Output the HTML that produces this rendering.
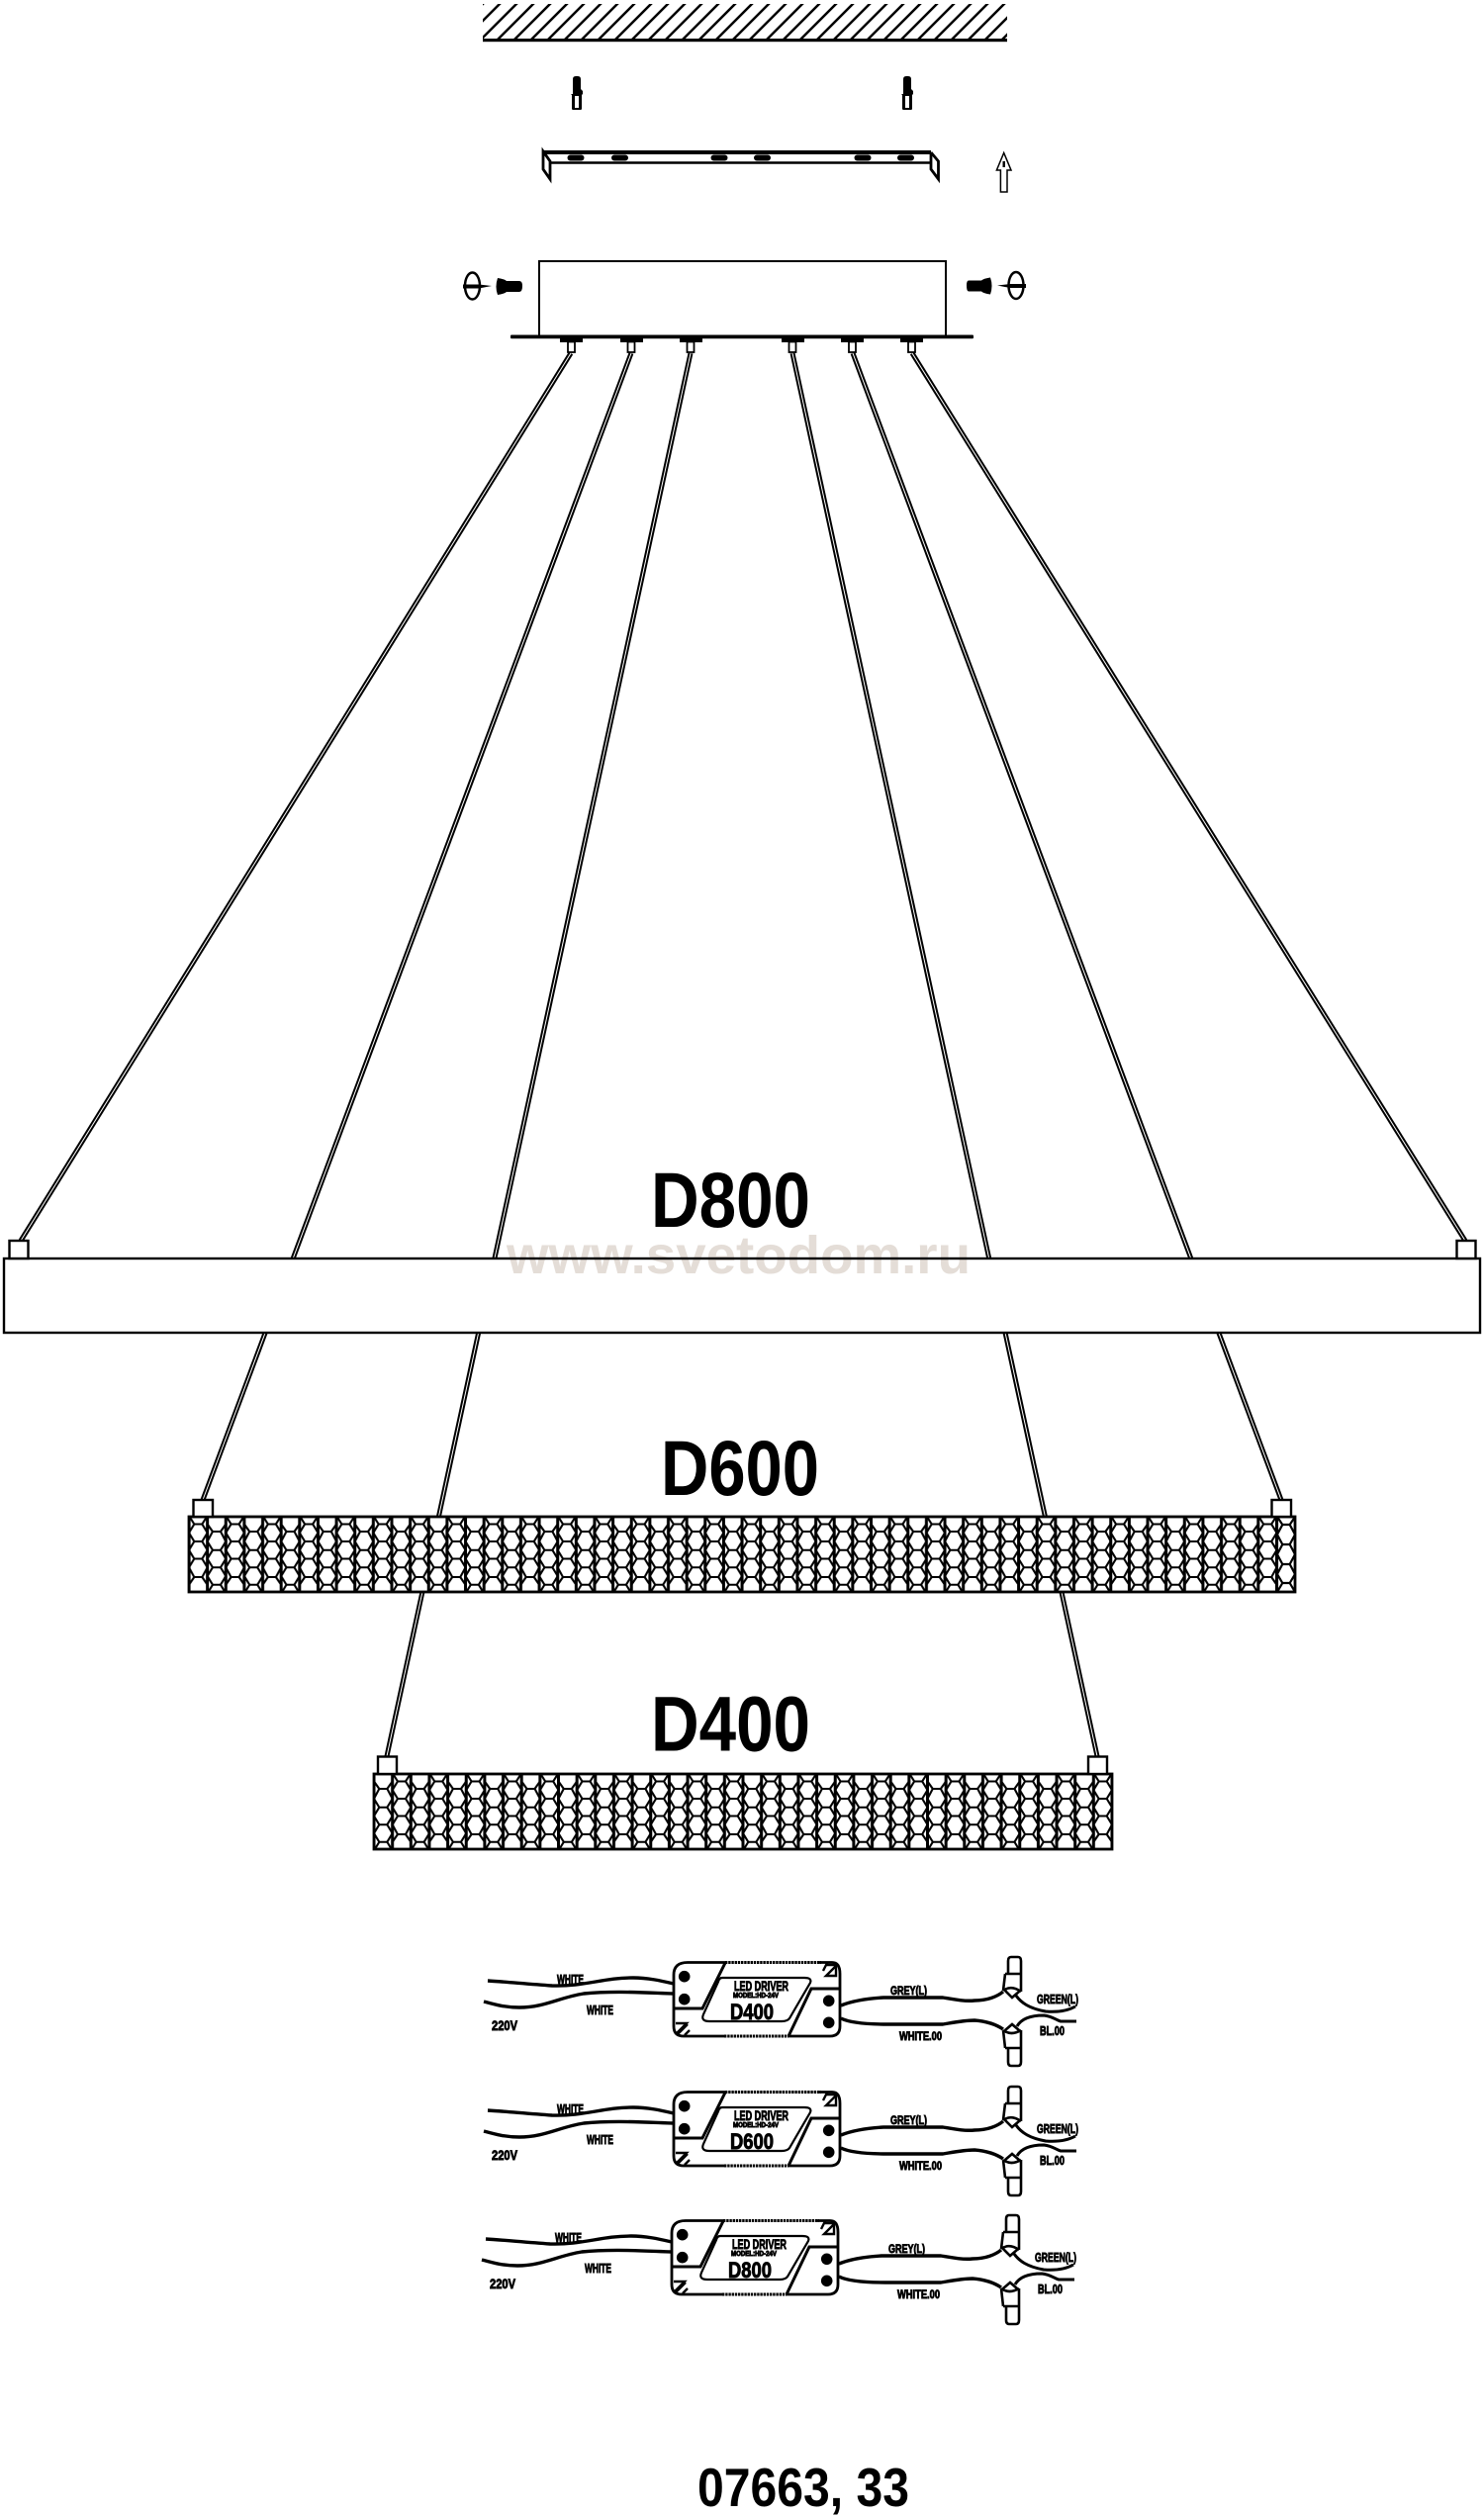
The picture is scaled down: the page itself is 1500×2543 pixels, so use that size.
<!DOCTYPE html>
<html>
<head>
<meta charset="utf-8">
<style>
html,body{margin:0;padding:0;background:#fff}
svg{display:block}
text{font-family:"Liberation Sans",sans-serif;font-weight:700;fill:#000}
.s{stroke:#000;stroke-width:.9}
</style>
</head>
<body>
<svg xmlns="http://www.w3.org/2000/svg" width="1500" height="2543" viewBox="0 0 1500 2543">
<defs>
<pattern id="hatch" patternUnits="userSpaceOnUse" x="488" y="4" width="17" height="17">
<path d="M-2 19L19 -2M-2 2L2 -2M15 19L19 15" stroke="#000" stroke-width="2.500" fill="none"/>
</pattern>
<pattern id="honey" patternUnits="userSpaceOnUse" x="378" y="1793" width="37.3" height="76">
<g fill="none" stroke="#000" stroke-width="2.100">
<path d="M0 0V7.500L5.300 15L0 25L5.300 33.750L0 42.500L5.300 51.250L0 60L5.300 68.750L0 77.500"/>
<path d="M18.650 0V7.500L13.350 15L18.650 25L13.350 33.750L18.650 42.500L13.350 51.250L18.650 60L13.350 68.750L18.650 77.500"/>
<path d="M5.300 15H13.350M5.300 33.750H13.350M5.300 51.250H13.350M5.300 68.750H13.350"/>
<path d="M18.650 -1L23.950 7.500L18.650 16.250L23.950 25L18.650 33.750L23.950 42.500L18.650 51.250L23.950 61L18.650 68.750V76"/>
<path d="M37.300 -1L32 7.500L37.300 16.250L32 25L37.300 33.750L32 42.500L37.300 51.250L32 61L37.300 68.750V76"/>
<path d="M23.950 7.500H32M23.950 25H32M23.950 42.500H32M23.950 61H32"/>
<path d="M0 0V76M18.650 0V76M37.300 0V76" stroke-width="3"/>
</g>
</pattern>
<pattern id="honey2" patternUnits="userSpaceOnUse" x="172.37" y="1533" width="37.27" height="76">
<g fill="none" stroke="#000" stroke-width="2.100">
<path d="M0 0V7.500L5.300 15L0 25L5.300 33.750L0 42.500L5.300 51.250L0 60L5.300 68.750L0 77.500"/>
<path d="M18.630 0V7.500L13.330 15L18.630 25L13.330 33.750L18.630 42.500L13.330 51.250L18.630 60L13.330 68.750L18.630 77.500"/>
<path d="M5.300 15H13.330M5.300 33.750H13.330M5.300 51.250H13.330M5.300 68.750H13.330"/>
<path d="M18.630 -1L23.930 7.500L18.630 16.250L23.930 25L18.630 33.750L23.930 42.500L18.630 51.250L23.930 61L18.630 68.750V76"/>
<path d="M37.270 -1L31.970 7.500L37.270 16.250L31.970 25L37.270 33.750L31.970 42.500L37.270 51.250L31.970 61L37.270 68.750V76"/>
<path d="M23.930 7.500H31.970M23.930 25H31.970M23.930 42.500H31.970M23.930 61H31.970"/>
<path d="M0 0V76M18.630 0V76M37.270 0V76" stroke-width="3"/>
</g>
</pattern>
<g id="driver" fill="none" stroke="#000">
<path d="M493 2002C510 2003 530 2005 558 2007C590 2008 610 1999 640 1999C655 1999 668 2002 681 2005" stroke-width="3.400"/>
<path d="M489 2023C500 2026 510 2029 525 2029C550 2029 565 2019 590 2015C620 2012 650 2014 681 2015" stroke-width="3.400"/>
<path d="M733 1983.5H695Q681 1983.500 681 1996V2048Q681 2058 691 2058H732M797 2058H839Q849 2058 849 2048V1995Q849 1983.500 841 1983.500H828" stroke-width="2.800"/>
<path d="M733 1983.500H830" stroke-width="3" stroke-dasharray="2.400 .8"/>
<path d="M732 2058H797" stroke-width="3" stroke-dasharray="2.400 .8"/>
<path d="M733 1984L710 2030H681M797 2058L820 2010H849" stroke-width="3"/>
<path d="M730 1999H813Q821 1999 819 2004L798 2040Q796 2043 790 2043H717Q708 2043 711 2036L726 2003Q727 1999 730 1999Z" stroke-width="2.200"/>
<g fill="#000" stroke="none">
<circle cx="691.700" cy="1997.700" r="5.800"/>
<circle cx="691.700" cy="2020.700" r="5.800"/>
<circle cx="837.700" cy="2022.300" r="5.800"/>
<circle cx="837.700" cy="2044.300" r="5.800"/>
</g>
<path d="M683 2045H694L683 2056M684 2057L695 2046M692 2057L697 2052M835 1986H845V1997H835L846 1986M836 1984L832 1992" stroke-width="2.400"/>
<path d="M850 2027C860 2023 875 2020 893 2019H953C965 2021 975 2023 985 2022C998 2022 1008 2018 1014 2013" stroke-width="3.400"/>
<path d="M850 2040C858 2044 875 2046 897 2046H953C965 2044 975 2042 985 2042C998 2043 1008 2047 1014 2051" stroke-width="3.400"/>
<path d="M1027 2017C1032 2024 1040 2030 1057 2033C1070 2034 1080 2032 1087 2028" stroke-width="3"/>
<path d="M1028 2048C1032 2041 1040 2037 1055 2037C1064 2038 1068 2042 1072 2043H1088" stroke-width="3"/>
<path d="M1019 1995V1982Q1019 1978 1022 1978H1029Q1032 1978 1032 1982V1995M1016 1995H1032V2013M1016 1995L1014 2012M1014 2012Q1022 2006 1032 2013M1016 2012L1023 2019L1030 2013" stroke-width="2.600" fill="#fff"/>
<path d="M1019 2070V2084Q1019 2088 1022 2088H1029Q1032 2088 1032 2084V2070M1016 2070H1032V2052M1016 2070L1014 2052M1014 2052Q1022 2058 1032 2052M1016 2052L1023 2046L1030 2052" stroke-width="2.600" fill="#fff"/>
</g>
</defs>

<rect width="1500" height="2543" fill="#fff"/>

<rect x="488" y="4" width="530" height="35" fill="url(#hatch)"/>
<rect x="488" y="39" width="530" height="3.200" fill="#000"/>

<g>
<path d="M579 95V80Q579 77 582 77H584Q587 77 587 80V90L589 92V95L588 96V110Q588 111 586 111H580Q578 111 578 110V96L577 95Z" fill="#000"/>
<rect x="581" y="97" width="4" height="12" fill="#fff"/>
<path d="M913 95V80Q913 77 916 77H918Q921 77 921 80V90L923 92V95L922 96V110Q922 111 920 111H914Q912 111 912 110V96L911 95Z" fill="#000"/>
<rect x="915" y="97" width="4" height="12" fill="#fff"/>
</g>

<g fill="none" stroke="#000">
<path d="M549 154H941" stroke-width="4"/>
<path d="M555 164.500H943" stroke-width="2.400"/>
<path d="M549 153V171L556 181V163L549 153ZM941 154L948.500 163V181L941 171V154" stroke-width="2.800" fill="#fff"/>
</g>
<g fill="#000">
<rect x="573.500" y="156.500" width="17" height="6" rx="3"/>
<rect x="618" y="156.500" width="17" height="6" rx="3"/>
<rect x="718.500" y="156.500" width="17" height="6" rx="3"/>
<rect x="762" y="156.500" width="17" height="6" rx="3"/>
<rect x="863.500" y="156.500" width="17" height="6" rx="3"/>
<rect x="907" y="156.500" width="17" height="6" rx="3"/>
</g>

<path d="M1014.700 154.500L1022 172H1018V194H1011.400V172H1007.400Z" fill="#fff" stroke="#000" stroke-width="1.500"/>
<rect x="1013.500" y="163" width="2.500" height="6" fill="#000"/>

<rect x="545" y="264" width="411" height="76" fill="#fff" stroke="#000" stroke-width="2"/>
<rect x="516" y="338.500" width="468" height="3.800" rx="1" fill="#000"/>

<g>
<ellipse cx="477.500" cy="289" rx="7.500" ry="13.500" fill="none" stroke="#000" stroke-width="2.500"/>
<path d="M468 287.500H484L497 289L484 291.500H468Z" fill="#000"/>
<path d="M503 281Q510 282 512 284H525Q528 284 528 289Q528 295 525 295H512Q510 297 503 298Q500 290 503 281Z" fill="#000"/>
<ellipse cx="1027" cy="288.500" rx="7.500" ry="13.500" fill="none" stroke="#000" stroke-width="2.500"/>
<path d="M1037 287H1021L1008 288.500L1021 291H1037Z" fill="#000"/>
<path d="M1001 280.500Q994 281.500 992 283.500H979Q977 283.500 977 288.500Q977 294.500 979 294.500H992Q994 296.500 1001 297.500Q1004 289 1001 280.500Z" fill="#000"/>
</g>

<g>
<g fill="#000">
<rect x="566" y="342" width="23" height="4"/>
<rect x="627" y="342" width="23" height="4"/>
<rect x="687" y="342" width="23" height="4"/>
<rect x="790" y="342" width="23" height="4"/>
<rect x="850" y="342" width="23" height="4"/>
<rect x="910" y="342" width="23" height="4"/>
</g>
<g fill="#fff" stroke="#000" stroke-width="1.800">
<rect x="574" y="345.500" width="7" height="10.500"/>
<rect x="634.500" y="345.500" width="7" height="10.500"/>
<rect x="694.500" y="345.500" width="7" height="10.500"/>
<rect x="797.500" y="345.500" width="7" height="10.500"/>
<rect x="858" y="345.500" width="7" height="10.500"/>
<rect x="918" y="345.500" width="7" height="10.500"/>
</g>
</g>

<g fill="none" stroke="#000" stroke-width="5">
<path d="M577 357L21 1254"/>
<path d="M638 357L205 1516"/>
<path d="M698 357L391 1775"/>
<path d="M801 357L1109 1775"/>
<path d="M862 357L1295 1516"/>
<path d="M922 357L1481 1254"/>
</g>
<g fill="none" stroke="#fff" stroke-width="1">
<path d="M577 357L21 1254"/>
<path d="M638 357L205 1516"/>
<path d="M698 357L391 1775"/>
<path d="M801 357L1109 1775"/>
<path d="M862 357L1295 1516"/>
<path d="M922 357L1481 1254"/>
</g>

<rect x="4" y="1272" width="1492" height="75" fill="#fff"/>
<text x="512" y="1287" font-size="54" textLength="469" lengthAdjust="spacingAndGlyphs" style="fill:#e4ddd7">www.svetodom.ru</text>
<rect x="4" y="1272" width="1492" height="75" fill="none" stroke="#000" stroke-width="2.400"/>
<rect x="9.500" y="1254" width="19" height="18" fill="#fff" stroke="#000" stroke-width="2.400"/>
<rect x="1472.500" y="1254" width="19" height="18" fill="#fff" stroke="#000" stroke-width="2.400"/>

<rect x="191" y="1533" width="1118" height="76" fill="#fff"/>
<rect x="191" y="1533" width="1118" height="76" fill="url(#honey2)"/>
<rect x="1291" y="1534" width="18" height="74" fill="#fff"/>
<path d="M1291 1533L1296.300 1541L1291 1551L1296.300 1561L1291 1571L1296.300 1581L1291 1591L1296.300 1600L1291 1609M1309 1533L1303.700 1541L1309 1551L1303.700 1561L1309 1571L1303.700 1581L1309 1591L1303.700 1600L1309 1609M1296.300 1541H1303.700M1296.300 1561H1303.700M1296.300 1581H1303.700M1296.300 1600H1303.700M1291 1533V1609" fill="none" stroke="#000" stroke-width="2.200"/>
<rect x="191" y="1533" width="1118" height="76" fill="none" stroke="#000" stroke-width="2.800"/>
<rect x="195.500" y="1516" width="19.500" height="17" fill="#fff" stroke="#000" stroke-width="2.400"/>
<rect x="1285.500" y="1516" width="19.500" height="17" fill="#fff" stroke="#000" stroke-width="2.400"/>

<rect x="378" y="1793" width="746" height="76" fill="#fff"/>
<rect x="378" y="1793" width="746" height="76" fill="url(#honey)"/>
<rect x="378" y="1793" width="746" height="76" fill="none" stroke="#000" stroke-width="2.800"/>
<rect x="382" y="1775.500" width="19" height="17.500" fill="#fff" stroke="#000" stroke-width="2.400"/>
<rect x="1100" y="1775.500" width="19" height="17.500" fill="#fff" stroke="#000" stroke-width="2.400"/>

<text x="658" y="1240" font-size="79" textLength="161" lengthAdjust="spacingAndGlyphs">D800</text>
<text x="668" y="1511" font-size="79" textLength="160" lengthAdjust="spacingAndGlyphs">D600</text>
<text x="658" y="1769.500" font-size="79" textLength="161" lengthAdjust="spacingAndGlyphs">D400</text>

<use href="#driver"/>
<use href="#driver" transform="translate(0 131)"/>
<use href="#driver" transform="translate(-2 261)"/>

<g class="s">
<g>
<text x="563" y="2005" font-size="13" textLength="27" lengthAdjust="spacingAndGlyphs">WHITE</text>
<text x="593" y="2036" font-size="13" textLength="27" lengthAdjust="spacingAndGlyphs">WHITE</text>
<text x="497" y="2052" font-size="14" textLength="26" lengthAdjust="spacingAndGlyphs">220V</text>
<text x="742" y="2012" font-size="13.500" textLength="55" lengthAdjust="spacingAndGlyphs">LED DRIVER</text>
<text x="741" y="2019" font-size="7" textLength="46" lengthAdjust="spacingAndGlyphs">MODEL:HD-24V</text>
<text x="738" y="2041" font-size="22" textLength="44" lengthAdjust="spacingAndGlyphs">D400</text>
<text x="900" y="2016" font-size="12" textLength="37" lengthAdjust="spacingAndGlyphs">GREY(L)</text>
<text x="909" y="2062" font-size="12" textLength="43" lengthAdjust="spacingAndGlyphs">WHITE.00</text>
<text x="1048" y="2025" font-size="13" textLength="42" lengthAdjust="spacingAndGlyphs">GREEN(L)</text>
<text x="1051" y="2057" font-size="13" textLength="25" lengthAdjust="spacingAndGlyphs">BL.00</text>
</g>
<g transform="translate(0 131)">
<text x="563" y="2005" font-size="13" textLength="27" lengthAdjust="spacingAndGlyphs">WHITE</text>
<text x="593" y="2036" font-size="13" textLength="27" lengthAdjust="spacingAndGlyphs">WHITE</text>
<text x="497" y="2052" font-size="14" textLength="26" lengthAdjust="spacingAndGlyphs">220V</text>
<text x="742" y="2012" font-size="13.500" textLength="55" lengthAdjust="spacingAndGlyphs">LED DRIVER</text>
<text x="741" y="2019" font-size="7" textLength="46" lengthAdjust="spacingAndGlyphs">MODEL:HD-24V</text>
<text x="738" y="2041" font-size="22" textLength="44" lengthAdjust="spacingAndGlyphs">D600</text>
<text x="900" y="2016" font-size="12" textLength="37" lengthAdjust="spacingAndGlyphs">GREY(L)</text>
<text x="909" y="2062" font-size="12" textLength="43" lengthAdjust="spacingAndGlyphs">WHITE.00</text>
<text x="1048" y="2025" font-size="13" textLength="42" lengthAdjust="spacingAndGlyphs">GREEN(L)</text>
<text x="1051" y="2057" font-size="13" textLength="25" lengthAdjust="spacingAndGlyphs">BL.00</text>
</g>
<g transform="translate(-2 261)">
<text x="563" y="2005" font-size="13" textLength="27" lengthAdjust="spacingAndGlyphs">WHITE</text>
<text x="593" y="2036" font-size="13" textLength="27" lengthAdjust="spacingAndGlyphs">WHITE</text>
<text x="497" y="2052" font-size="14" textLength="26" lengthAdjust="spacingAndGlyphs">220V</text>
<text x="742" y="2012" font-size="13.500" textLength="55" lengthAdjust="spacingAndGlyphs">LED DRIVER</text>
<text x="741" y="2019" font-size="7" textLength="46" lengthAdjust="spacingAndGlyphs">MODEL:HD-24V</text>
<text x="738" y="2041" font-size="22" textLength="44" lengthAdjust="spacingAndGlyphs">D800</text>
<text x="900" y="2016" font-size="12" textLength="37" lengthAdjust="spacingAndGlyphs">GREY(L)</text>
<text x="909" y="2062" font-size="12" textLength="43" lengthAdjust="spacingAndGlyphs">WHITE.00</text>
<text x="1048" y="2025" font-size="13" textLength="42" lengthAdjust="spacingAndGlyphs">GREEN(L)</text>
<text x="1051" y="2057" font-size="13" textLength="25" lengthAdjust="spacingAndGlyphs">BL.00</text>
</g>
</g>

<text x="705" y="2533" font-size="55" textLength="214" lengthAdjust="spacingAndGlyphs">07663, 33</text>
</svg>
</body>
</html>
